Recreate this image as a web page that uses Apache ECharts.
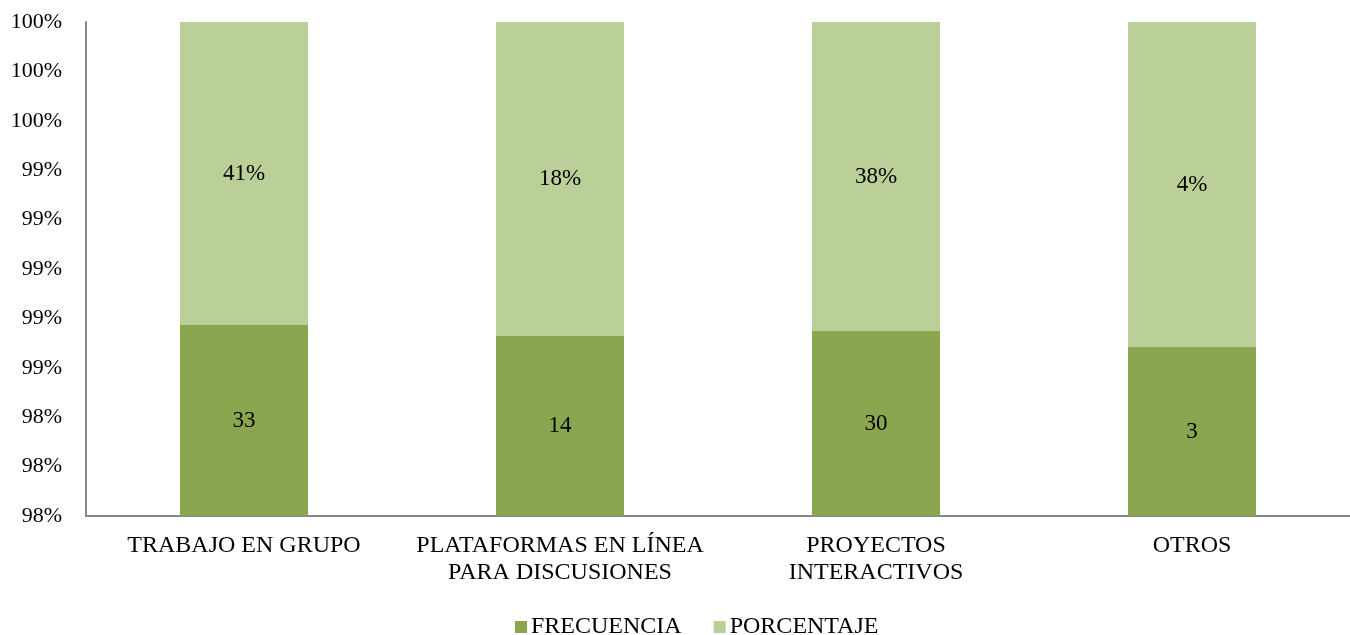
<!DOCTYPE html>
<html>
<head>
    <meta charset="utf-8">
    <title>Frecuencia y porcentaje</title>
    <script src="https://cdn.jsdelivr.net/npm/echarts@6/dist/echarts.min.js"></script>
    <style>
        html, body { margin: 0; padding: 0; background: #fff; }
        #chart { width: 1350px; height: 635px; }
    </style>
</head>
<body>
    <div id="chart"></div>
    <script>
        var categories = ['TRABAJO EN GRUPO', 'PLATAFORMAS EN LÍNEA\nPARA DISCUSIONES', 'PROYECTOS\nINTERACTIVOS', 'OTROS'];
        var frecuencia = [33, 14, 30, 3];
        var porcentaje = [0.41, 0.18, 0.38, 0.04];

        // 100% stacked: each part as share of the column total
        var shareFrec = frecuencia.map(function (v, i) { return v / (v + porcentaje[i]) * 100; });
        var sharePorc = porcentaje.map(function (v, i) { return v / (frecuencia[i] + v) * 100; });

        var font = '"Liberation Serif", "Times New Roman", serif';
        var chart = echarts.init(document.getElementById('chart'));

        chart.setOption({
            animation: false,
            textStyle: { fontFamily: font, color: '#000' },
            grid: { left: 86, right: -14, top: 22, bottom: 119 },
            legend: {
                data: ['FRECUENCIA', 'PORCENTAJE'],
                top: 610,
                left: 510,
                itemWidth: 12,
                itemHeight: 12,
                itemGap: 32,
                icon: 'rect',
                textStyle: { fontFamily: font, fontSize: 24, color: '#000', padding: [0, 0, 0, -1] }
            },
            xAxis: {
                type: 'category',
                data: categories,
                axisLine: { lineStyle: { color: '#868686', width: 2 } },
                axisTick: { show: false },
                axisLabel: {
                    fontFamily: font, fontSize: 24, color: '#000', margin: 16, lineHeight: 27,
                    interval: 0, hideOverlap: false
                }
            },
            yAxis: {
                type: 'value',
                min: 98,
                max: 100,
                interval: 0.2,
                splitLine: { show: false },
                axisLine: { show: true, lineStyle: { color: '#868686', width: 2 } },
                axisTick: { show: false },
                axisLabel: {
                    fontFamily: font, fontSize: 22, color: '#000', margin: 24,
                    formatter: function (v) { return Math.round(v) + '%'; }
                }
            },
            series: [
                {
                    name: 'FRECUENCIA',
                    type: 'bar',
                    stack: 'total',
                    barWidth: 128,
                    data: shareFrec,
                    itemStyle: { color: '#8AA64F' },
                    label: {
                        show: true, position: 'inside', fontFamily: font, fontSize: 23, color: '#000',
                        formatter: function (p) { return frecuencia[p.dataIndex]; }
                    }
                },
                {
                    name: 'PORCENTAJE',
                    type: 'bar',
                    stack: 'total',
                    barWidth: 128,
                    data: sharePorc,
                    itemStyle: { color: '#BBCF99' },
                    label: {
                        show: true, position: 'inside', fontFamily: font, fontSize: 23, color: '#000',
                        formatter: function (p) { return Math.round(porcentaje[p.dataIndex] * 100) + '%'; }
                    }
                }
            ]
        });
    </script>
</body>
</html>
